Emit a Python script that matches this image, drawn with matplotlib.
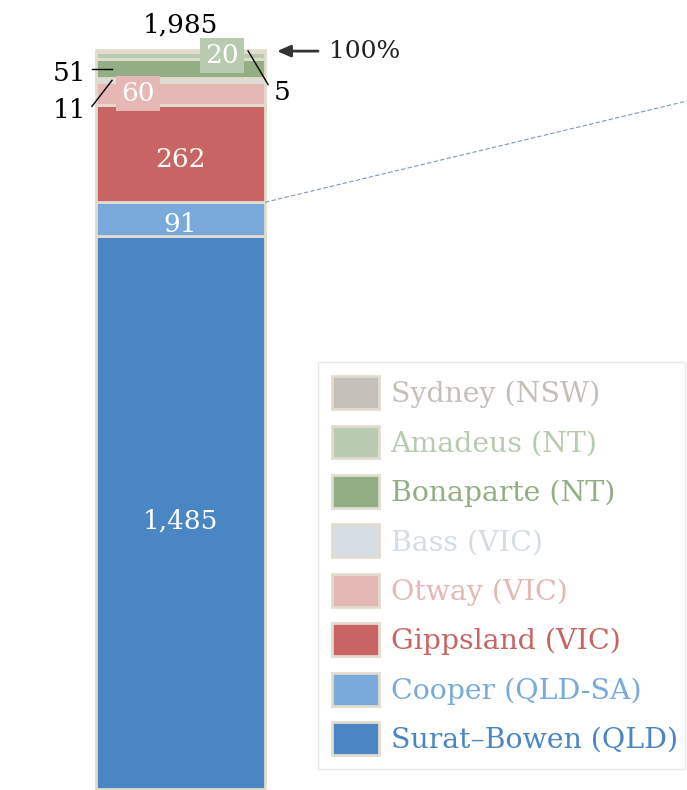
import matplotlib
matplotlib.use("Agg")
import matplotlib.pyplot as plt
import numpy as np

plt.rcParams["font.family"] = ["DejaVu Serif"]

# basins, bottom to top of the stack
basins = ["Surat\u2013Bowen (QLD)", "Cooper (QLD-SA)", "Gippsland (VIC)", "Otway (VIC)",
          "Bass (VIC)", "Bonaparte (NT)", "Amadeus (NT)", "Sydney (NSW)"]
values = [1485, 91, 262, 60, 11, 51, 20, 5]
colors = ["#4a86c3", "#79aadb", "#c86464", "#e5b8b5",
          "#d5dde2", "#93ae85", "#b8cab0", "#c5bfb9"]
EDGE = "#e2dccf"

total = sum(values)
bottoms = np.concatenate([[0], np.cumsum(values)[:-1]])
mids = bottoms + np.array(values) / 2

fig = plt.figure(figsize=(6.87, 7.90), dpi=100)
ax = fig.add_axes([0, 1 / 790, 1, 739 / 790])
ax.set_xlim(-1.068, 2.997)
ax.set_ylim(0, total)
ax.axis("off")

bars = []
for b, v, c, name in zip(bottoms, values, colors, basins):
    bars.append(ax.bar(0, v, width=1.0, bottom=b, color=c, edgecolor=EDGE,
                       linewidth=2, label=name, clip_on=False))

NUM = 19

# labels inside the large segments
for i, dy in ((0, -6), (1, -4), (2, -4)):
    ax.annotate(f"{values[i]:,}", (0, mids[i]), xytext=(0, dy),
                textcoords="offset points", ha="center", va="center",
                color="white", fontsize=NUM)

# boxed labels for the thin segments
ax.text(-0.25, mids[3], f"{values[3]}", ha="center", va="center", color="white",
        fontsize=NUM, bbox=dict(boxstyle="square,pad=0.2", fc=colors[3], ec="none"))
ax.text(0.246, mids[6], f"{values[6]}", ha="center", va="center", color="white",
        fontsize=NUM, bbox=dict(boxstyle="square,pad=0.2", fc=colors[6], ec="none"))

# leader-line labels
ax.plot([-0.524, -0.405], [mids[5], mids[5]], color="black", lw=1, clip_on=False)
ax.text(-0.555, mids[5] - 12, f"{values[5]}", ha="right", va="center", fontsize=NUM)
ax.plot([-0.524, -0.405], [mids[4] - 70, mids[4]], color="black", lw=1, clip_on=False)
ax.text(-0.56, mids[4] - 80, f"{values[4]}", ha="right", va="center", fontsize=NUM)
ax.plot([0.40, 0.518], [mids[7], mids[7] - 90], color="black", lw=1, clip_on=False)
ax.text(0.553, mids[7] - 113, f"{values[7]}", ha="left", va="center", fontsize=NUM)

ax.text(0, total + 68, f"{total:,}", ha="center", va="center", fontsize=NUM,
        clip_on=False)
ax.annotate("", xy=(0.571, total - 3), xytext=(0.814, total - 3),
            arrowprops=dict(arrowstyle="-|>,head_length=0.8,head_width=0.35",
                            color="#333333", lw=2, shrinkA=0, shrinkB=0),
            annotation_clip=False)
ax.text(0.879, total - 3, "100%", ha="left", va="center", fontsize=18,
        color="#222222")

# connector to the breakdown panel
ax.plot([0.5, 2.997], [bottoms[2], 1848], ls=(0, (4, 2)), lw=0.8,
        color="#7f9ab5")

leg = ax.legend(handles=bars[::-1], labels=basins[::-1], loc="upper left",
                bbox_to_anchor=(318 / 687, 0, 367 / 687, 1 - 362 / 790),
                bbox_transform=fig.transFigure, borderaxespad=0, mode="expand",
                fontsize=20.4, labelcolor=colors[::-1], frameon=True,
                fancybox=False, edgecolor="#e4e4e4", handlelength=1.64,
                handleheight=1.4, labelspacing=0.59, handletextpad=0.42,
                borderpad=0.5)
leg.get_frame().set_linewidth(1)

fig.savefig("out.png", dpi=100, facecolor="white")
